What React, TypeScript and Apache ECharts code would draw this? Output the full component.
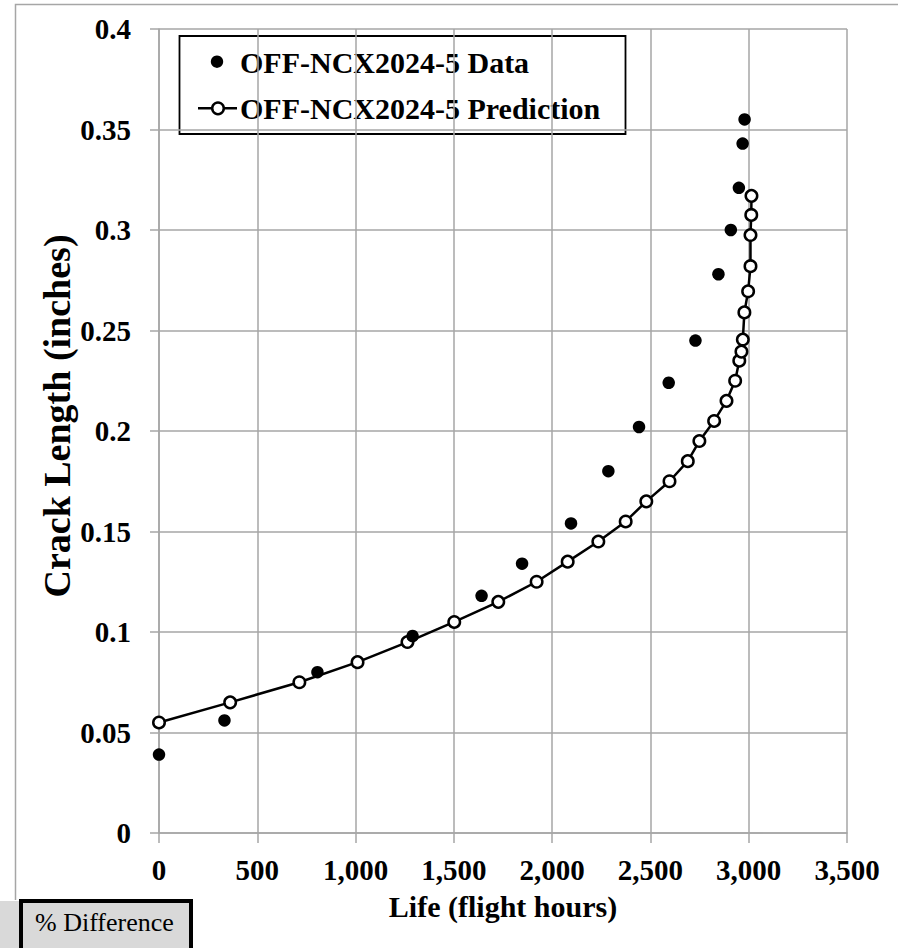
import React, { useEffect, useRef } from "react";
import * as echarts from "echarts";

// Measured crack growth (flight hours vs crack length, inches)
const dataHours = [0, 333, 806, 1290, 1641, 1847, 2096, 2286, 2442, 2593, 2729, 2846, 2909, 2950, 2969, 2979];
const dataCrack = [0.039, 0.056, 0.08, 0.098, 0.118, 0.134, 0.154, 0.18, 0.202, 0.224, 0.245, 0.278, 0.3, 0.321, 0.343, 0.355];

// Predicted crack growth curve
const predHours = [0, 362, 714, 1010, 1264, 1502, 1726, 1921, 2079, 2235, 2374, 2479, 2597, 2690, 2749, 2824, 2887, 2931, 2952, 2963, 2970, 2978, 2997, 3009, 3009, 3013, 3014];
const predCrack = [0.055, 0.065, 0.075, 0.085, 0.095, 0.105, 0.115, 0.125, 0.135, 0.145, 0.155, 0.165, 0.175, 0.185, 0.195, 0.205, 0.215, 0.225, 0.235, 0.2395, 0.2455, 0.259, 0.2695, 0.282, 0.2975, 0.3075, 0.317];

const seriesNames = ["OFF-NCX2024-5 Data", "OFF-NCX2024-5 Prediction"];
const xAxisTitle = "Life (flight hours)";
const yAxisTitle = "Crack Length (inches)";
const cellLabel = "% Difference";

const SERIF = "'Liberation Serif', 'Times New Roman', serif";
const GRID_GRAY = "#a6a6a6";

export default function App() {
  const ref = useRef<HTMLDivElement>(null);

  useEffect(() => {
    if (!ref.current) return;
    const chart = echarts.init(ref.current, undefined, { renderer: "svg" });

    const dataPoints = dataHours.map((h, i) => [h, dataCrack[i]]);
    const predPoints = predHours.map((h, i) => [h, predCrack[i]]);

    chart.setOption({
      animation: false,
      backgroundColor: "#ffffff",
      grid: { left: 159, top: 29, width: 688, height: 804, containLabel: false },
      xAxis: {
        type: "value",
        min: 0,
        max: 3500,
        interval: 500,
        name: xAxisTitle,
        nameLocation: "middle",
        nameGap: 58,
        nameTextStyle: { fontFamily: SERIF, fontWeight: "bold", fontSize: 30, color: "#000" },
        axisLine: { show: true, onZero: false, lineStyle: { color: GRID_GRAY, width: 1.5 } },
        axisTick: { show: true, inside: false, length: 10, lineStyle: { color: GRID_GRAY, width: 1.5 } },
        splitLine: { show: true, lineStyle: { color: GRID_GRAY, width: 1.5 } },
        axisLabel: {
          margin: 22,
          fontFamily: SERIF,
          fontWeight: "bold",
          fontSize: 29,
          color: "#000",
          formatter: (v: number) => v.toLocaleString("en-US"),
        },
      },
      yAxis: {
        type: "value",
        min: 0,
        max: 0.4,
        interval: 0.05,
        axisLine: { show: true, onZero: false, lineStyle: { color: GRID_GRAY, width: 1.5 } },
        axisTick: { show: true, inside: false, length: 9, lineStyle: { color: GRID_GRAY, width: 1.5 } },
        splitLine: { show: true, lineStyle: { color: GRID_GRAY, width: 1.5 } },
        axisLabel: {
          margin: 28,
          fontFamily: SERIF,
          fontWeight: "bold",
          fontSize: 29,
          color: "#000",
          formatter: (v: number) => String(+v.toFixed(2)),
        },
      },
      series: [
        {
          name: seriesNames[1],
          type: "line",
          data: predPoints,
          symbol: "circle",
          symbolSize: 11.5,
          showAllSymbol: true,
          lineStyle: { color: "#000", width: 2.5 },
          itemStyle: { color: "#fff", borderColor: "#000", borderWidth: 2.5, opacity: 1 },
          z: 2,
        },
        {
          name: seriesNames[0],
          type: "scatter",
          data: dataPoints,
          symbol: "circle",
          symbolSize: 12.5,
          itemStyle: { color: "#000", opacity: 1 },
          z: 3,
        },
      ],
      graphic: [
        // outer chart frame (top and left edges)
        {
          type: "polyline",
          shape: { points: [[15.5, 900], [15.5, 4.5], [898, 4.5]] },
          style: { stroke: GRID_GRAY, lineWidth: 1.5, fill: "none" },
          silent: true,
        },
        // vertical axis title
        {
          type: "text",
          x: 57,
          y: 416,
          rotation: Math.PI / 2,
          style: {
            text: yAxisTitle,
            fontFamily: SERIF,
            fontWeight: "bold",
            fontSize: 38,
            fill: "#000",
            align: "center",
            verticalAlign: "middle",
          },
        },
        // legend
        {
          type: "group",
          z: 10,
          children: [
            {
              type: "rect",
              shape: { x: 179.5, y: 36, width: 446, height: 98 },
              style: { fill: "#fff", stroke: "#000", lineWidth: 1.8 },
            },
            {
              type: "circle",
              shape: { cx: 217, cy: 61.7, r: 6.2 },
              style: { fill: "#000" },
            },
            {
              type: "text",
              x: 240,
              y: 62,
              style: {
                text: seriesNames[0],
                fontFamily: SERIF,
                fontWeight: "bold",
                fontSize: 30,
                fill: "#000",
                verticalAlign: "middle",
                align: "left",
              },
            },
            {
              type: "line",
              shape: { x1: 198, y1: 108.3, x2: 237, y2: 108.3 },
              style: { stroke: "#000", lineWidth: 2.5 },
            },
            {
              type: "circle",
              shape: { cx: 218, cy: 108.3, r: 5.8 },
              style: { fill: "#fff", stroke: "#000", lineWidth: 2.5 },
            },
            {
              type: "text",
              x: 240,
              y: 108.5,
              style: {
                text: seriesNames[1],
                fontFamily: SERIF,
                fontWeight: "bold",
                fontSize: 30,
                fill: "#000",
                verticalAlign: "middle",
                align: "left",
              },
            },
          ],
        },
        // spreadsheet cells below the chart
        {
          type: "group",
          z: 10,
          children: [
            {
              type: "rect",
              shape: { x: 0, y: 901, width: 21, height: 47 },
              style: { fill: "#d9d9d9" },
            },
            {
              type: "rect",
              shape: { x: 21, y: 901, width: 170, height: 60 },
              style: { fill: "#d9d9d9", stroke: "#000", lineWidth: 4 },
            },
            {
              type: "text",
              x: 35,
              y: 922,
              style: {
                text: cellLabel,
                fontFamily: SERIF,
                fontSize: 26,
                fill: "#000",
                verticalAlign: "middle",
                align: "left",
              },
            },
          ],
        },
      ],
    });

    return () => chart.dispose();
  }, []);

  return (
    <div
      ref={ref}
      style={{ position: "absolute", left: 0, top: 0, width: 898, height: 948, background: "#fff" }}
    />
  );
}
